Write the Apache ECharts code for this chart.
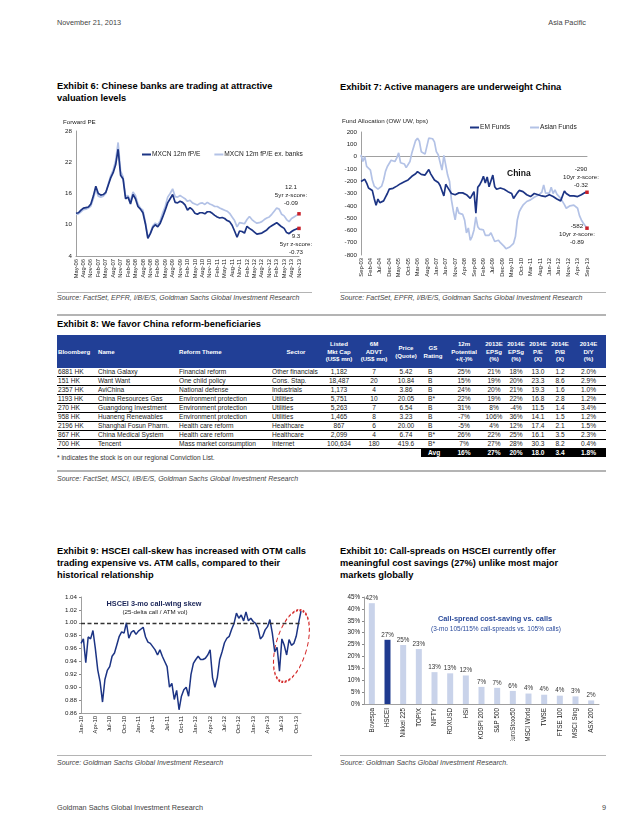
<!DOCTYPE html>
<html>
<head>
<meta charset="utf-8">
<script src="https://cdn.jsdelivr.net/npm/echarts@6.0.0/dist/echarts.min.js"></script>
<style>
html,body{margin:0;padding:0;background:#fff;}
body{width:638px;height:826px;position:relative;overflow:hidden;font-family:"Liberation Sans",Arial,sans-serif;color:#000;}
.t{position:absolute;white-space:nowrap;}
.hdr{font-size:7.3px;color:#444;line-height:8px;}
.title{font-size:9.3px;font-weight:bold;line-height:12px;}
.src{font-size:7px;font-style:italic;color:#444;line-height:8px;}
.note{font-size:6.6px;color:#333;line-height:8px;}
.rule{position:absolute;background:#b4b4b4;}
.chart{position:absolute;}
#tbl{position:absolute;left:57px;top:335px;width:549px;border-collapse:collapse;table-layout:fixed;font-size:6.6px;color:#222;}
#tbl th{background:#213f96;color:#fff;font-weight:bold;font-size:6.1px;line-height:7.4px;height:33px;padding:0 1px;vertical-align:middle;text-align:center;}
#tbl td{height:8px;line-height:8px;padding:0 1px;border-bottom:0.8px solid #000;white-space:nowrap;overflow:visible;text-align:center;}
#tbl td.l,#tbl th.l{text-align:left;}
#tbl td.g{text-align:left;padding-left:7px;}
#tbl tr.avg td{border-bottom:none;}
#tbl tr.avg td.k{background:#000;color:#fff;font-weight:bold;}
</style>
</head>
<body>

<div class="t hdr" style="left:57px;top:19px;">November 21, 2013</div>
<div class="t hdr" style="right:52px;top:19px;">Asia Pacific</div>

<div class="t title" style="left:57px;top:80px;">Exhibit 6: Chinese banks are trading at attractive<br>valuation levels</div>
<div class="t title" style="left:340px;top:81px;">Exhibit 7: Active managers are underweight China</div>

<div id="c6" class="chart" style="left:57px;top:110px;width:255px;height:180px;"></div>
<div id="c7" class="chart" style="left:340px;top:110px;width:265px;height:180px;"></div>

<div class="rule" style="left:57px;top:292px;width:255px;height:1px;"></div>
<div class="rule" style="left:340px;top:292px;width:266px;height:1px;"></div>
<div class="t src" style="left:57px;top:294px;">Source: FactSet, EPFR, I/B/E/S, Goldman Sachs Global Investment Research</div>
<div class="t src" style="left:340px;top:294px;">Source: FactSet, EPFR, I/B/E/S, Goldman Sachs Global Investment Research</div>

<div class="rule" style="left:57px;top:314px;width:549px;height:2px;"></div>
<div class="t title" style="left:57px;top:318px;">Exhibit 8: We favor China reform-beneficiaries</div>
<table id="tbl"></table>
<div class="t note" style="left:57px;top:454px;">* indicates the stock is on our regional Conviction List.</div>
<div class="rule" style="left:57px;top:470px;width:549px;height:2px;"></div>
<div class="t src" style="left:57px;top:475px;">Source: FactSet, MSCI, I/B/E/S, Goldman Sachs Global Investment Research</div>

<div class="t title" style="left:57px;top:545px;">Exhibit 9: HSCEI call-skew has increased with OTM calls<br>trading expensive vs. ATM calls, compared to their<br>historical relationship</div>
<div class="t title" style="left:340px;top:545px;">Exhibit 10: Call-spreads on HSCEI currently offer<br>meaningful cost savings (27%) unlike most major<br>markets globally</div>

<div id="c9" class="chart" style="left:50px;top:585px;width:262px;height:165px;"></div>
<div id="c10" class="chart" style="left:340px;top:585px;width:265px;height:156px;"></div>

<div class="rule" style="left:57px;top:755px;width:255px;height:1px;"></div>
<div class="rule" style="left:340px;top:755px;width:266px;height:1px;"></div>
<div class="t src" style="left:57px;top:759px;">Source: Goldman Sachs Global Investment Research</div>
<div class="t src" style="left:340px;top:759px;">Source: Goldman Sachs Global Investment Research.</div>

<div class="t hdr" style="left:57px;top:804px;">Goldman Sachs Global Investment Research</div>
<div class="t hdr" style="right:32px;top:804px;">9</div>

<script>
// ===================== DATA =====================
const MON = ['Jan','Feb','Mar','Apr','May','Jun','Jul','Aug','Sep','Oct','Nov','Dec'];
function monthLabels(y, m, n){
  const out=[];
  for(let i=0;i<n;i++){const k=m-1+i;out.push(MON[k%12]+'-'+String((y+Math.floor(k/12))%100).padStart(2,'0'));}
  return out;
}

// Exhibit 6: monthly forward P/E, May-06 .. Nov-13
const ex6Names = ['MXCN 12m fP/E','MXCN 12m fP/E ex. banks'];
const ex6Cats = monthLabels(2006,5,91);
const ex6MXCN = [12.2,12.3,12.8,13.2,13.3,13.4,14.0,15.5,17.4,16.0,
 15.7,15.8,16.2,17.6,19.0,20.0,21.5,24.5,19.5,18.8,
 15.0,15.3,14.0,15.8,15.0,13.5,13.0,12.3,10.2,7.4,
 8.3,9.5,10.0,9.6,10.3,11.5,12.8,14.2,15.0,15.8,
 14.3,14.2,14.5,14.3,13.8,12.8,13.3,12.9,12.2,12.0,
 12.3,12.3,12.1,12.5,12.5,12.2,11.8,11.5,11.3,11.4,
 11.2,10.8,10.6,9.9,8.8,7.6,8.8,8.7,8.4,9.7,
 9.3,9.0,8.6,8.2,8.3,8.4,8.7,9.0,9.5,9.8,
 10.1,10.4,10.0,9.6,9.3,8.5,8.3,8.7,9.0,9.2,
 9.3];
const ex6ExBanks = [12.0,12.1,12.5,12.9,13.0,13.2,13.6,15.0,16.8,15.5,
 15.3,15.5,16.0,17.8,19.4,20.5,22.3,25.8,20.3,19.2,
 15.5,15.6,14.5,16.3,15.6,14.0,13.2,12.8,10.5,7.6,
 8.4,9.8,10.3,10.0,10.8,12.3,13.5,15.3,16.0,16.9,
 15.4,15.3,15.6,15.3,15.0,14.5,14.7,14.2,14.0,13.8,
 14.1,14.2,13.9,14.3,14.0,13.8,13.5,13.5,13.2,13.0,
 12.8,12.6,12.2,11.5,10.8,9.6,10.4,10.3,10.2,11.0,
 11.6,11.0,10.6,10.3,10.4,10.6,11.0,11.3,11.5,12.0,
 12.6,13.2,13.0,12.0,11.7,11.0,10.6,11.2,11.5,11.8,
 12.1];
const ex6Notes = ['9.3\n5yr z-score:\n-0.73','12.1\n5yr z-score:\n-0.09'];

// Exhibit 7: monthly fund allocation (bps), Sep-03 .. Sep-13
const ex7Names = ['EM Funds','Asian Funds'];
const ex7Cats = monthLabels(2003,9,121);
const ex7EM = [-202,-190,-185,-215,-255, -270,-275,-340,-395,-345,
 -375,-370,-360,-330,-300, -265,-260,-258,-255,-240,
 -230,-220,-215,-205,-200, -190,-175,-160,-150,-140,
 -122,-130,-145,-150,-150, -160,-105,-140,-155,-190,
 -175,-210,-235,-245,-320, -225,-250,-275,-300,-305,
 -310,-300,-295,-298,-295, -285,-310,-325,-340,-330,
 -285,-460,-250,-230,-200, -160,-215,-165,-245,-260,
 -150,-245,-265,-270,-255, -255,-265,-270,-285,-295,
 -300,-340,-330,-295,-275, -270,-285,-300,-310,-320,
 -325,-310,-300,-305,-310, -310,-320,-335,-325,-315,
 -310,-320,-325,-340,-345, -350,-360,-365,-280,-300,
 -310,-320,-325,-320,-325, -325,-320,-310,-295,-292,
 -290];
const ex7Asian = [15,-40,0,-80,-95, -110,-190,-240,-255,-265,
 -270,-240,-190,-120,-80, -93,-30,-25,-40,-10,
 30,-50,-55,-60,-90, -93,-40,30,80,130,
 150,125,40,55,20, 15,150,150,145,120,
 40,15,0,-110,10, 2,-150,-200,-350,-440,
 -515,-410,-460,-445,-470, -515,-620,-580,-680,-650,
 -596,-490,-570,-590,-600, -596,-640,-650,-640,-620,
 -623,-690,-680,-680,-700, -705,-730,-750,-760,-735,
 -719,-705,-650,-515,-450, -420,-395,-380,-365,-360,
 -352,-340,-330,-320,-315, -311,-290,-230,-297,-300,
 -297,-250,-300,-270,-305, -311,-340,-355,-390,-420,
 -433,-400,-390,-395,-410, -420,-480,-515,-540,-550,
 -582];
const ex7Notes = ['-290\n10yr z-score:\n-0.32','-582\n10yr z-score:\n-0.89'];

// Exhibit 9: HSCEI 3-mo call-wing skew, twice a month, Jan-10 .. Nov-13
const ex9Months = monthLabels(2010,1,47);
const ex9Cats = [];
ex9Months.forEach((m,i)=>{ex9Cats.push(m); if(i<ex9Months.length-1) ex9Cats.push(m+'|2');});
const ex9Skew = [0.968,0.975, 0.938,0.978, 0.975,0.988, 0.960,0.927, 0.908,0.877,
 0.912,0.926, 0.932,0.948, 0.953,0.966, 0.979,0.986, 0.984,1.000,
 0.976,0.985, 0.988,0.982, 0.987,0.990, 0.993,0.978, 0.970,0.968,
 0.963,0.958, 0.950,0.958, 0.948,0.940, 0.932,0.900, 0.906,0.881,
 0.895,0.865, 0.886,0.896, 0.900,0.886, 0.920,0.937, 0.943,0.948,
 0.943,0.943, 0.945,0.950, 0.958,0.915, 0.900,0.915, 0.943,0.955,
 0.969,0.976, 0.979,0.990, 0.999,1.015, 1.007,1.012, 1.003,1.017,
 1.003,1.007, 1.002,0.999, 0.992,0.975, 0.979,0.989, 0.994,1.005,
 0.984,0.955, 0.962,0.925, 0.975,0.965, 0.950,0.974, 0.965,0.968,
 0.979,1.000, 1.018];
const ex9Ref = 1.00;
const ex9Title = ['HSCEI 3-mo call-wing skew','(25-delta call / ATM vol)'];

// Exhibit 10: call-spread cost saving vs calls (%)
const ex10Cats = ['Bovespa','HSCEI','Nikkei 225','TOPIX','NIFTY','RDXUSD','HSI','KOSPI 200','S&P 500','EuroStoxx50','MSCI World','TWSE','FTSE 100','MSCI Sing','ASX 200'];
const ex10Vals = [42.4,27.0,24.8,23.1,13.4,12.9,12.0,7.2,6.8,5.5,4.4,3.9,3.5,3.2,1.5];
const ex10Highlight = 'HSCEI';
const ex10Title = ['Call-spread cost-saving vs. calls','(3-mo 105/115% call-spreads vs. 105% calls)'];

// Exhibit 8 table
const tblHead = ['Bloomberg','Name','Reform Theme','Sector','Listed<br>Mkt Cap<br>(US$ mn)','6M<br>ADVT<br>(US$ mn)','Price<br>(Quote)','GS<br>Rating','12m<br>Potential<br>+/(-)%','2013E<br>EPSg<br>(%)','2014E<br>EPSg<br>(%)','2014E<br>P/E<br>(X)','2014E<br>P/B<br>(X)','2014E<br>D/Y<br>(%)'];
const tblTicker = ['6881 HK','151 HK','2357 HK','1193 HK','270 HK','958 HK','2196 HK','867 HK','700 HK'];
const tblName = ['China Galaxy','Want Want','AviChina','China Resources Gas','Guangdong Investment','Huaneng Renewables','Shanghai Fosun Pharm.','China Medical System','Tencent'];
const tblTheme = ['Financial reform','One child policy','National defense','Environment protection','Environment protection','Environment protection','Health care reform','Health care reform','Mass market consumption'];
const tblSector = ['Other financials','Cons. Stap.','Industrials','Utilities','Utilities','Utilities','Healthcare','Healthcare','Internet'];
const tblMktCap = ['1,182','18,487','1,173','5,751','5,263','1,465','867','2,099','100,634'];
const tblADVT = ['7','20','4','10','7','8','6','4','180'];
const tblPrice = ['5.42','10.84','3.86','20.05','6.54','3.23','20.00','6.74','419.6'];
const tblRating = ['B','B','B','B*','B','B','B','B*','B*'];
const tblPotential = ['25%','15%','24%','22%','31%','-7%','-5%','26%','7%'];
const tblEps13 = ['21%','19%','20%','19%','8%','106%','4%','22%','27%'];
const tblEps14 = ['18%','20%','21%','22%','-4%','36%','12%','25%','28%'];
const tblPE = ['13.0','23.3','19.3','16.8','11.5','14.1','17.4','16.1','30.3'];
const tblPB = ['1.2','8.6','1.6','2.8','1.4','1.5','2.1','3.5','8.2'];
const tblDY = ['2.0%','2.9%','1.0%','1.2%','3.4%','1.2%','1.5%','2.3%','0.4%'];
const tblAvg = ['Avg','16%','27%','20%','18.0','3.4','1.8%'];

// ===================== TABLE =====================
(function(){
  const widths=[40,81,93,50,36,34,30,24,38,22,22,22,22,35];
  const cls=['l','l','l','l','','','','g','','','','','',''];
  let h='<colgroup>'+widths.map(w=>'<col style="width:'+w+'px">').join('')+'</colgroup>';
  h+='<tr>'+tblHead.map((t,i)=>'<th class="'+(i<3?'l':'')+'">'+t+'</th>').join('')+'</tr>';
  for(let r=0;r<tblTicker.length;r++){
    const row=[tblTicker[r],tblName[r],tblTheme[r],tblSector[r],tblMktCap[r],tblADVT[r],tblPrice[r],tblRating[r],tblPotential[r],tblEps13[r],tblEps14[r],tblPE[r],tblPB[r],tblDY[r]];
    h+='<tr>'+row.map((v,i)=>'<td class="'+cls[i]+'">'+v+'</td>').join('')+'</tr>';
  }
  h+='<tr class="avg">';
  for(let i=0;i<7;i++) h+='<td></td>';
  tblAvg.forEach((v,i)=>{h+='<td class="k'+(i===0?' g':'')+'">'+v+'</td>';});
  h+='</tr>';
  document.getElementById('tbl').innerHTML=h;
})();

// ===================== CHARTS =====================
const FF = '"Liberation Sans", Arial, sans-serif';
const DARK = '#1c3484';
const LIGHT = '#b3c2e6';
const RED = '#c8202a';
const TXT = '#222';

function lastPoint(cats, vals, note, pos, dist, off){
  return {symbol:'rect', symbolSize:3.5, itemStyle:{color:RED}, silent:true,
    data:[{coord:[cats[cats.length-1], vals[vals.length-1]],
      label:{show:true, formatter:note, position:pos, distance:dist, offset:off,
        fontSize:6.2, lineHeight:8, color:TXT, fontFamily:FF, align:'center'}}]};
}

// ---- Exhibit 6 ----
const c6 = echarts.init(document.getElementById('c6'), null, {renderer:'canvas'});
c6.setOption({
  animation:false,
  textStyle:{fontFamily:FF},
  grid:{left:19,right:13,top:21,bottom:34,outerBoundsMode:'none'},
  legend:{left:85,top:41,padding:0,width:240,itemWidth:9,itemHeight:2,itemGap:14,icon:'rect',
    textStyle:{fontSize:6.6,color:TXT,fontFamily:FF,padding:[0,0,0,-4]},
    data:[ex6Names[0],ex6Names[1]]},
  graphic:[{type:'text',left:6,top:9,style:{text:'Forward PE',fontSize:6.2,fill:TXT,fontFamily:FF}}],
  xAxis:{type:'category',data:ex6Cats,boundaryGap:false,
    axisLine:{lineStyle:{color:'#888',width:0.8}},axisTick:{show:false},
    axisLabel:{rotate:90,interval:2,fontSize:5.8,color:TXT,margin:3,fontFamily:FF}},
  yAxis:{type:'value',min:4,max:28,interval:6,splitLine:{show:false},
    axisLine:{show:true,lineStyle:{color:'#888',width:0.8}},axisTick:{show:false},
    axisLabel:{fontSize:6.2,color:TXT,margin:4,fontFamily:FF}},
  series:[
    {name:ex6Names[1],type:'line',data:ex6ExBanks,showSymbol:false,lineStyle:{color:LIGHT,width:1.7},itemStyle:{color:LIGHT},
      markPoint:lastPoint(ex6Cats,ex6ExBanks,ex6Notes[1],'top',5,[-8,0])},
    {name:ex6Names[0],type:'line',data:ex6MXCN,showSymbol:false,lineStyle:{color:DARK,width:1.7},itemStyle:{color:DARK},
      markPoint:lastPoint(ex6Cats,ex6MXCN,ex6Notes[0],'bottom',2,[-3,0])}
  ]
});

// ---- Exhibit 7 ----
const c7 = echarts.init(document.getElementById('c7'), null, {renderer:'canvas'});
c7.setOption({
  animation:false,
  textStyle:{fontFamily:FF},
  grid:{left:21,right:18,top:22,bottom:35,outerBoundsMode:'none'},
  legend:{left:130,top:14,padding:0,width:200,itemWidth:9,itemHeight:2,itemGap:20,icon:'rect',
    textStyle:{fontSize:6.6,color:TXT,fontFamily:FF,padding:[0,0,0,-4]},
    data:[ex7Names[0],ex7Names[1]]},
  graphic:[
    {type:'text',left:2,top:8,style:{text:'Fund Allocation (OW/ UW, bps)',fontSize:6.2,fill:TXT,fontFamily:FF}},
    {type:'text',left:167,top:59,style:{text:'China',fontSize:8.5,fontWeight:'bold',fill:'#111',fontFamily:FF}}
  ],
  xAxis:{type:'category',data:ex7Cats,boundaryGap:false,
    axisLine:{lineStyle:{color:'#888',width:0.8}},axisTick:{show:false},
    axisLabel:{rotate:90,interval:4,fontSize:5.8,color:TXT,margin:3,fontFamily:FF}},
  yAxis:{type:'value',min:-800,max:200,interval:100,splitLine:{show:false},
    axisLine:{show:true,lineStyle:{color:'#888',width:0.8}},axisTick:{show:false},
    axisLabel:{fontSize:6.2,color:TXT,margin:4,fontFamily:FF}},
  series:[
    {name:ex7Names[1],type:'line',data:ex7Asian,showSymbol:false,lineStyle:{color:LIGHT,width:1.7},itemStyle:{color:LIGHT},
      markPoint:lastPoint(ex7Cats,ex7Asian,ex7Notes[1],'bottom',0,[-10,-8])},
    {name:ex7Names[0],type:'line',data:ex7EM,showSymbol:false,lineStyle:{color:DARK,width:1.7},itemStyle:{color:DARK},
      markPoint:lastPoint(ex7Cats,ex7EM,ex7Notes[0],'top',1,[-6,0])}
  ]
});

// ---- Exhibit 9 ----
const c9 = echarts.init(document.getElementById('c9'), null, {renderer:'canvas'});
c9.setOption({
  animation:false,
  textStyle:{fontFamily:FF},
  grid:{left:31,right:11,top:12,bottom:37,outerBoundsMode:'none'},
  xAxis:{type:'category',data:ex9Cats,boundaryGap:false,
    axisLine:{lineStyle:{color:'#888',width:0.8}},axisTick:{show:false},
    axisLabel:{rotate:90,interval:5,fontSize:5.8,color:TXT,margin:3,fontFamily:FF,
      formatter:v=>v.split('|')[0]}},
  yAxis:{type:'value',min:0.86,max:1.04,interval:0.02,splitLine:{show:false},
    axisLine:{show:true,lineStyle:{color:'#888',width:0.8}},axisTick:{show:true,length:2,lineStyle:{color:'#888'}},
    axisLabel:{fontSize:6.2,color:TXT,margin:4,fontFamily:FF,formatter:v=>v.toFixed(2)}},
  series:[{type:'line',data:ex9Skew,showSymbol:false,lineStyle:{color:DARK,width:1.5},itemStyle:{color:DARK},
    markLine:{silent:true,symbol:'none',label:{show:false},
      lineStyle:{type:[4,2.5],color:'#333',width:1.4},data:[{yAxis:ex9Ref}]}}]
});
(function(){
  const idx = ex9Cats.indexOf('Sep-13');
  const p = c9.convertToPixel({gridIndex:0},[idx,0.964]);
  c9.setOption({graphic:[
    {type:'text',x:104,y:19,style:{text:ex9Title[0],fontSize:7.3,fontWeight:'bold',fill:'#1a2558',fontFamily:FF,align:'center',verticalAlign:'middle'}},
    {type:'text',x:105,y:27,style:{text:ex9Title[1],fontSize:6.2,fill:TXT,fontFamily:FF,align:'center',verticalAlign:'middle'}},
    {type:'circle',x:p[0],y:p[1],scaleX:0.42,rotation:-0.27,shape:{cx:0,cy:0,r:37},
      style:{fill:'none',stroke:'#d42a2a',lineWidth:1.5,lineDash:[3,2],strokeNoScale:true}}
  ]});
})();

// ---- Exhibit 10 ----
const c10 = echarts.init(document.getElementById('c10'), null, {renderer:'canvas'});
c10.setOption({
  animation:false,
  textStyle:{fontFamily:FF},
  grid:{left:24,right:6,top:12,bottom:37,outerBoundsMode:'none'},
  graphic:[
    {type:'text',x:155,y:34,style:{text:ex10Title[0],fontSize:7.4,fontWeight:'bold',fill:'#2c4c9c',fontFamily:FF,align:'center',verticalAlign:'middle'}},
    {type:'text',x:156,y:44,style:{text:ex10Title[1],fontSize:6.5,fill:'#2c4c9c',fontFamily:FF,align:'center',verticalAlign:'middle'}}
  ],
  xAxis:{type:'category',data:ex10Cats,
    axisLine:{lineStyle:{color:'#888',width:0.8}},axisTick:{show:false},
    axisLabel:{rotate:90,interval:0,fontSize:6.3,color:TXT,margin:4,fontFamily:FF}},
  yAxis:{type:'value',min:0,max:45,interval:5,splitLine:{show:false},
    axisLine:{show:true,lineStyle:{color:'#888',width:0.8}},axisTick:{show:true,length:2,lineStyle:{color:'#888'}},
    axisLabel:{fontSize:6.3,color:TXT,margin:4,fontFamily:FF,formatter:v=>v+'%'}},
  series:[{type:'bar',data:ex10Vals,barWidth:6,
    itemStyle:{color:p=>p.name===ex10Highlight?'#1f3a8f':'#c9d3ea'},
    label:{show:true,position:'top',distance:2,fontSize:6.3,color:'#333',
      fontFamily:'"Liberation Sans Narrow", "Liberation Sans", sans-serif',
      formatter:p=>Math.round(p.value)+'%'}}]
});
</script>
</body>
</html>
